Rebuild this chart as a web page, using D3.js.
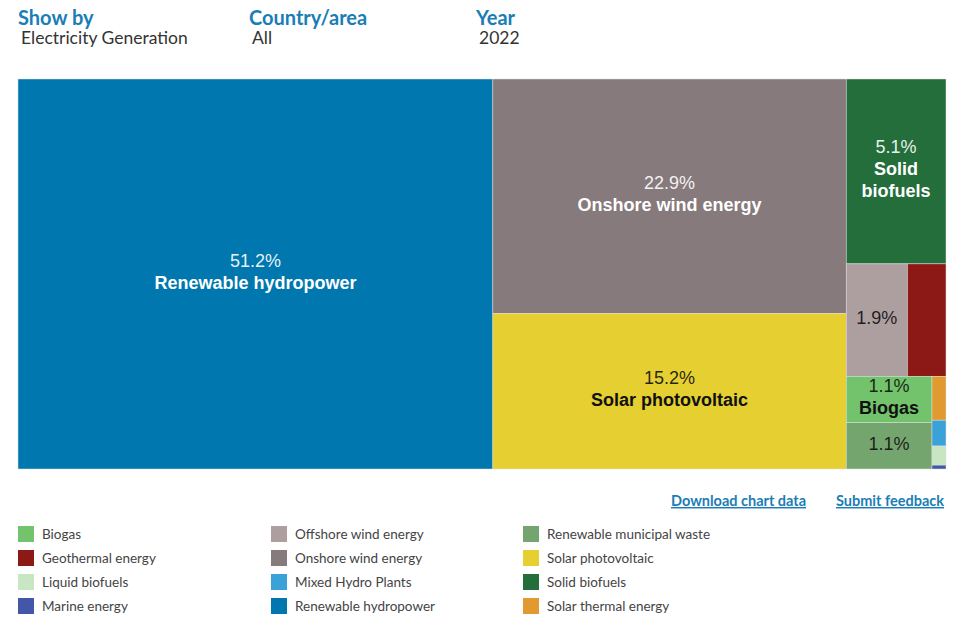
<!DOCTYPE html>
<html>
<head>
<meta charset="utf-8">
<script src="https://cdn.jsdelivr.net/npm/d3@7"></script>
<style>
  html, body { margin: 0; padding: 0; background: #fff; }
  svg { display: block; }
</style>
</head>
<body>
<svg id="chart" width="960" height="621"></svg>
<script>
// ---- Data ----
const categories = [
  "Renewable hydropower", "Onshore wind energy", "Solar photovoltaic", "Solid biofuels",
  "Offshore wind energy", "Geothermal energy", "Biogas", "Renewable municipal waste",
  "Solar thermal energy", "Mixed Hydro Plants", "Liquid biofuels", "Marine energy"
];
const shares = [51.2, 22.9, 15.2, 5.1, 1.9, 1.2, 1.1, 1.1, 0.17, 0.10, 0.074, 0.015];
const colors = [
  "#0077ae", "#877a7c", "#e5cf31", "#246e3c",
  "#ad9ea0", "#8c1915", "#72c36b", "#75a56f",
  "#e09a30", "#3aa1d9", "#c9e6c2", "#4456a8"
];
const darkText = ["Solar photovoltaic", "Offshore wind energy", "Biogas", "Renewable municipal waste"];
const legendOrder = [
  "Biogas", "Geothermal energy", "Liquid biofuels", "Marine energy",
  "Offshore wind energy", "Onshore wind energy", "Mixed Hydro Plants", "Renewable hydropower",
  "Renewable municipal waste", "Solar photovoltaic", "Solid biofuels", "Solar thermal energy"
];
const headerLabels = ["Show by", "Country/area", "Year"];
const headerValues = ["Electricity Generation", "All", "2022"];
const linkLabels = ["Download chart data", "Submit feedback"];

// ---- Setup ----
const svg = d3.select("#chart");
const blue = "#1a7db6";
const uiFont = "Lato, 'Open Sans', sans-serif";
const labelFont = "'Liberation Sans', Arial, sans-serif";

// Header
const headerX = [18, 249, 476];
headerLabels.forEach((t, i) => {
  svg.append("text").attr("x", headerX[i]).attr("y", 25)
    .attr("font-family", uiFont).attr("font-weight", 700).attr("font-size", 20)
    .attr("fill", blue).text(t);
  svg.append("text").attr("x", headerX[i] + 3).attr("y", 44)
    .attr("font-family", uiFont).attr("font-size", 17.5)
    .attr("fill", "#333").text(headerValues[i]);
});

// Treemap
const tm = { x: 18, y: 79, w: 928, h: 390 };
const colorScale = d3.scaleOrdinal().domain(categories).range(colors);
const root = d3.hierarchy({ children: categories.map((c, i) => ({ name: c, value: shares[i] })) })
  .sum(d => d.value)
  .sort((a, b) => b.value - a.value);
d3.treemap().tile(d3.treemapSquarify).size([tm.w, tm.h]).round(false)(root);

const g = svg.append("g").attr("transform", `translate(${tm.x},${tm.y})`);
const cells = g.selectAll("g.cell").data(root.leaves()).join("g")
  .attr("class", "cell")
  .attr("transform", d => `translate(${d.x0},${d.y0})`);
cells.append("rect")
  .attr("width", d => d.x1 - d.x0)
  .attr("height", d => d.y1 - d.y0)
  .attr("fill", d => colorScale(d.data.name))
  .attr("stroke", "#e0e0e0").attr("stroke-width", 0.5);

// Labels
const fs = 18, lh = 22, pad = 6;
const measurer = svg.append("text").attr("font-family", labelFont).attr("font-size", fs).attr("visibility", "hidden");
function measure(t, bold) {
  measurer.attr("font-weight", bold ? 700 : 400).text(t);
  return measurer.node().getComputedTextLength();
}
function wrap(name, maxW) {
  const words = name.split(" ");
  const lines = [];
  let cur = "";
  for (const w of words) {
    const test = cur ? cur + " " + w : w;
    if (measure(test, true) <= maxW) cur = test;
    else {
      if (cur) lines.push(cur);
      if (measure(w, true) > maxW) return null;
      cur = w;
    }
  }
  if (cur) lines.push(cur);
  return lines;
}
cells.each(function(d) {
  const w = d.x1 - d.x0, h = d.y1 - d.y0;
  const pct = d.data.value.toFixed(1) + "%";
  const maxW = w - 2 * pad;
  if (measure(pct, false) > maxW || h < lh + 2) return;
  let lines = [{ t: pct, b: false }];
  const nl = wrap(d.data.name, maxW);
  if (nl && (nl.length + 1) * lh <= h + 2) lines = lines.concat(nl.map(t => ({ t, b: true })));
  const fill = darkText.includes(d.data.name) ? "#111" : "#fff";
  const cy = h / 2 - 2.5;
  const startY = cy - (lines.length - 1) * lh / 2;
  const t = d3.select(this).append("text")
    .attr("font-family", labelFont).attr("font-size", fs)
    .attr("fill", fill).attr("text-anchor", "middle");
  lines.forEach((ln, i) => {
    t.append("tspan").attr("x", w / 2).attr("y", startY + i * lh)
      .attr("dy", "0.35em")
      .attr("font-weight", ln.b ? 700 : 400)
      .attr("fill-opacity", ln.b ? 1 : 0.92)
      .text(ln.t);
  });
});
measurer.remove();

// Links
const linkX = [671, 836];
linkLabels.forEach((t, i) => {
  svg.append("text").attr("x", linkX[i]).attr("y", 506)
    .attr("font-family", uiFont).attr("font-weight", 700).attr("font-size", 14.5)
    .attr("fill", blue).attr("text-decoration", "underline").text(t);
});

// Legend
const legendCols = [18, 271, 523];
const rowY = [534, 558, 582, 606];
legendOrder.forEach((name, i) => {
  const col = Math.floor(i / 4), row = i % 4;
  const x = legendCols[col], y = rowY[row];
  svg.append("rect").attr("x", x).attr("y", y - 8).attr("width", 16).attr("height", 16)
    .attr("fill", colorScale(name));
  svg.append("text").attr("x", x + 24).attr("y", y).attr("dy", "0.35em")
    .attr("font-family", uiFont).attr("font-size", 13.5)
    .attr("fill", "#444").text(name);
});
</script>
</body>
</html>
